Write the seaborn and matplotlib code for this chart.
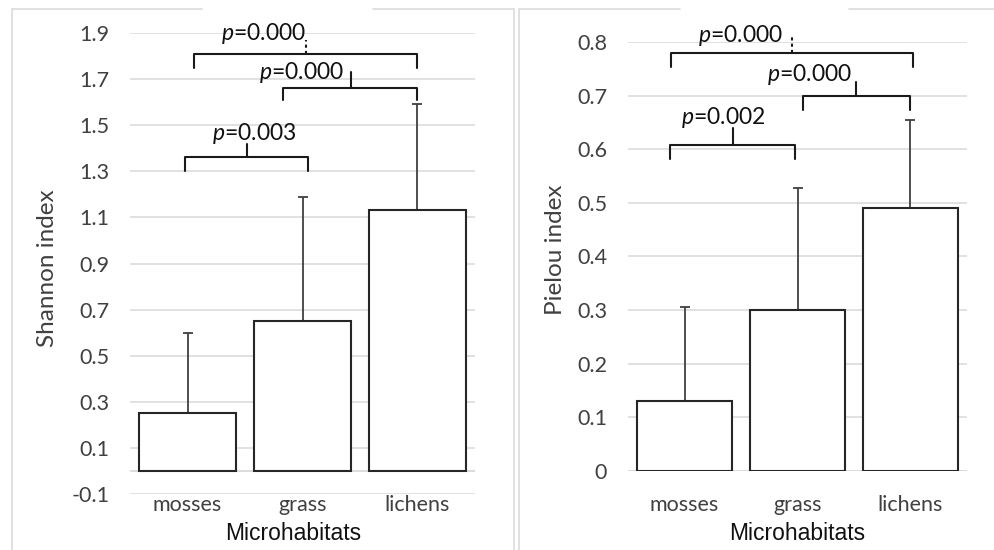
import matplotlib
matplotlib.use("Agg")
import matplotlib.pyplot as plt
from matplotlib.lines import Line2D
import seaborn as sns
import numpy as np
import pandas as pd

# ---- data ----
categories = ["mosses", "grass", "lichens"]
shannon_mean = [0.25, 0.65, 1.13]
shannon_sd = [0.35, 0.54, 0.46]
pielou_mean = [0.13, 0.30, 0.49]
pielou_sd = [0.176, 0.228, 0.165]
shannon_ticks = [-0.1, 0.1, 0.3, 0.5, 0.7, 0.9, 1.1, 1.3, 1.5, 1.7, 1.9]
pielou_ticks = [0, 0.1, 0.2, 0.3, 0.4, 0.5, 0.6, 0.7, 0.8]
shannon_tick_labels = ["-0.1", "0.1", "0.3", "0.5", "0.7", "0.9", "1.1", "1.3", "1.5", "1.7", "1.9"]
pielou_tick_labels = ["0", "0.1", "0.2", "0.3", "0.4", "0.5", "0.6", "0.7", "0.8"]
shannon_p = ["0.000", "0.000", "0.003"]
pielou_p = ["0.000", "0.000", "0.002"]

sns.set_theme(style="white")
plt.rcParams["font.family"] = ["Lato", "DejaVu Sans"]
plt.rcParams["mathtext.fontset"] = "custom"
plt.rcParams["mathtext.it"] = "Lato:italic"
plt.rcParams["mathtext.rm"] = "Lato"

TICK_C = "#404040"
GRID_C = "#d9d9d9"
EDGE_C = "#262626"

fig = plt.figure(figsize=(9.95, 5.5), dpi=100)
fig.patch.set_facecolor("white")

# panel frames (light gray)
def frame(x0, x1, y0, gaps):
    W, H = 995.0, 550.0
    fig.add_artist(Line2D([x0 / W, x0 / W], [1 - y0 / H, 0], color="#dcdcdc", lw=1.2))
    fig.add_artist(Line2D([x1 / W, x1 / W], [1 - y0 / H, 0], color="#dcdcdc", lw=1.2))
    segs = [x0] + [g for gap in gaps for g in gap] + [x1]
    for a, b in zip(segs[::2], segs[1::2]):
        fig.add_artist(Line2D([a / W, b / W], [1 - y0 / H, 1 - y0 / H], color="#dcdcdc", lw=1.2))

frame(12, 514, 9, [(202, 373)])
frame(519, 1000, 9, [(680, 849)])

ax1 = fig.add_axes([130 / 995, (550 - 494) / 550, 345 / 995, (494 - 33) / 550])
ax2 = fig.add_axes([628 / 995, (550 - 471) / 550, 339 / 995, (471 - 42) / 550])


def draw_panel(ax, means, sds, ticks, tlabels, ylim, ylabel, xpad, xlab_pos, ylab_pos):
    df = pd.DataFrame({"cat": categories, "val": means})
    sns.barplot(data=df, x="cat", y="val", ax=ax, color="white", edgecolor=EDGE_C,
                linewidth=1.5, width=0.84, errorbar=None, zorder=3)
    xs = np.arange(len(categories))
    ax.errorbar(xs, means, yerr=[np.zeros(len(sds)), sds], fmt="none",
                ecolor="#404040", elinewidth=1.3, capsize=3.5, capthick=1.3, zorder=2)
    ax.set_xlim(-0.5, 2.5)
    ax.set_ylim(*ylim)
    ax.set_yticks(ticks)
    ax.set_yticklabels(tlabels)
    for t in ticks:
        ax.axhline(t, color=GRID_C, lw=1.1, zorder=0)
    ax.axhline(0, color=GRID_C, lw=1.3, zorder=1)
    for s in ax.spines.values():
        s.set_visible(False)
    ax.tick_params(axis="y", length=0, labelsize=15.5, colors=TICK_C, pad=15)
    ax.tick_params(axis="x", length=0, labelsize=15.5, colors=TICK_C, pad=xpad)
    ax.set_xlabel("Microhabitats", fontsize=16.5, color="#111111",
                  family=["Liberation Sans", "DejaVu Sans"])
    ax.xaxis.set_label_coords(*xlab_pos)
    ax.xaxis.label.set_verticalalignment("center")
    ax.set_ylabel(ylabel, fontsize=17.5, color=TICK_C)
    ax.yaxis.set_label_coords(*ylab_pos)
    ax.yaxis.label.set_verticalalignment("center")
    ax.set_facecolor("none")


draw_panel(ax1, shannon_mean, shannon_sd, shannon_ticks, shannon_tick_labels, (-0.1, 1.9),
           "Shannon index", 1, (0.472, (494 - 533) / 461), (-0.238, 0.49))
draw_panel(ax2, pielou_mean, pielou_sd, pielou_ticks, pielou_tick_labels, (0, 0.8),
           "Pielou index", 17, (0.5, (471 - 533) / 429), (-0.215, 0.515))


def bracket(ax, x1, x2, y, yleg, tx, ttop, lx, ly, label, dotted=False):
    kw = dict(color="#1a1a1a", lw=1.5, clip_on=False, zorder=5)
    ax.plot([x1, x1, x2, x2], [yleg, y, y, yleg], **kw)
    ax.plot([tx, tx], [y, ttop], ls=(0, (1.5, 1.5)) if dotted else "-", **kw)
    ax.text(lx, ly, r"$\it{p}$=" + label, ha="center", va="center", fontsize=16.5,
            color="#111111", clip_on=False, zorder=6)


bracket(ax1, 0.06, 2.0, 1.81, 1.75, 1.03, 1.87, 0.66, 1.90, shannon_p[0], dotted=True)
bracket(ax1, 0.83, 2.0, 1.66, 1.61, 1.42, 1.73, 0.99, 1.73, shannon_p[1])
bracket(ax1, -0.02, 1.05, 1.36, 1.30, 0.52, 1.42, 0.58, 1.465, shannon_p[2])

bracket(ax2, -0.12, 2.02, 0.78, 0.754, 0.95, 0.813, 0.50, 0.813, pielou_p[0], dotted=True)
bracket(ax2, 1.05, 2.0, 0.70, 0.673, 1.52, 0.726, 1.11, 0.74, pielou_p[1])
bracket(ax2, -0.13, 0.98, 0.608, 0.582, 0.43, 0.64, 0.34, 0.659, pielou_p[2])

fig.savefig("out.png", dpi=100, facecolor="white")
